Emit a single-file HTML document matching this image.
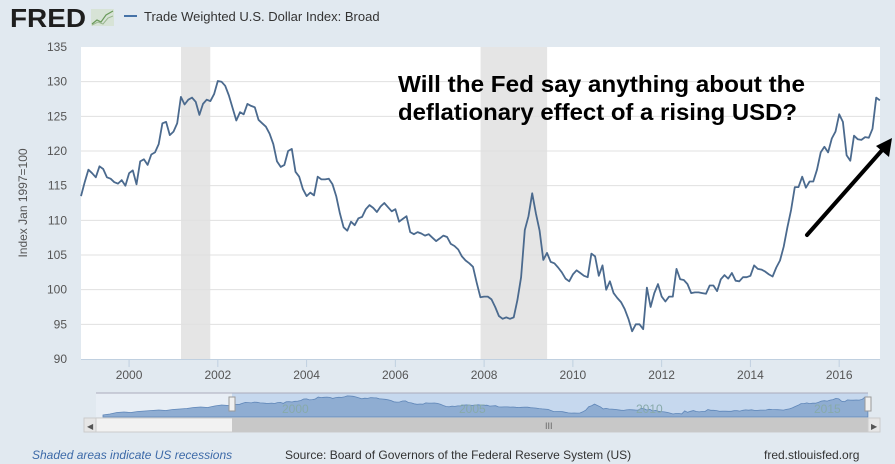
<!DOCTYPE html>
<html><head><meta charset="utf-8"><style>
body{margin:0;width:895px;height:464px;background:#e1e9f0;font-family:"Liberation Sans",Arial,sans-serif;overflow:hidden}
svg{display:block}
</style></head><body>
<svg id="c" width="895" height="464">
<rect x="0" y="0" width="895" height="464" fill="#e1e9f0"/>
<g>
<text x="10" y="27" font-size="26" font-weight="bold" fill="#1e1e1e" textLength="76" lengthAdjust="spacingAndGlyphs" font-family="Liberation Sans, Arial, sans-serif">FRED</text>
<rect x="91" y="9" width="23" height="17" fill="#d7e3d6"/>
<polyline points="92,24 97,20 101,22 106,15 113,11" fill="none" stroke="#6a9a5b" stroke-width="1.2"/>
<polyline points="92,25 98,22 103,24 108,18 113,16" fill="none" stroke="#9ab78f" stroke-width="1"/>
</g>
<line x1="124" y1="16" x2="137" y2="16" stroke="#4572a7" stroke-width="2"/>
<text x="144" y="21" font-size="13" fill="#333">Trade Weighted U.S. Dollar Index: Broad</text>
<rect x="81" y="47" width="799" height="312" fill="#fff"/>
<g id="rec"></g><g id="grid"></g><g id="ylab"></g><g id="xlab"></g>
<text transform="translate(27,203) rotate(-90)" text-anchor="middle" font-size="12" fill="#555">Index Jan 1997=100</text>
<path id="line" fill="none" stroke="#4b6a8e" stroke-width="1.8" stroke-linejoin="round"/>
<g font-size="23" font-weight="bold" fill="#000">
<text x="398" y="92" textLength="407" lengthAdjust="spacingAndGlyphs">Will the Fed say anything about the</text>
<text x="398" y="120" textLength="399" lengthAdjust="spacingAndGlyphs">deflationary effect of a rising USD?</text>
</g>
<g>
<line x1="807" y1="235" x2="884" y2="148" stroke="#000" stroke-width="4" stroke-linecap="round"/>
<polygon points="892,138 889,157 876,146" fill="#000"/>
</g>
<g>
<rect x="96" y="393" width="772" height="24" fill="#e8eef5"/>
<rect x="232" y="393" width="636" height="24" fill="#c6d8ee"/>
<path id="nav" fill="#8fadd2" stroke="#5f86b8" stroke-width="0.8"/>
<line x1="96" y1="393" x2="868" y2="393" stroke="#aab"/>
<text x="282" y="413" font-size="12" fill="#8aa">2000</text><text x="459" y="413" font-size="12" fill="#8aa">2005</text>
<text x="636" y="413" font-size="12" fill="#8aa">2010</text><text x="814" y="413" font-size="12" fill="#8aa">2015</text>
<rect x="229" y="397" width="6" height="14" fill="#f0f0f0" stroke="#999"/>
<rect x="865" y="397" width="6" height="14" fill="#f0f0f0" stroke="#999"/>
</g>
<g>
<rect x="84" y="418" width="796" height="14" fill="#f2f2f2" stroke="#ccc"/>
<rect x="232" y="418" width="636" height="14" fill="#c8c8c8"/>
<rect x="84" y="418" width="12" height="14" fill="#e6e6e6" stroke="#ccc"/>
<rect x="868" y="418" width="12" height="14" fill="#e6e6e6" stroke="#ccc"/>
<text x="87" y="429" font-size="8" fill="#555">◀</text><text x="871" y="429" font-size="8" fill="#555">▶</text>
<text x="545" y="429" font-size="9" fill="#666">III</text>
</g>
<text x="32" y="459" font-size="12" font-style="italic" fill="#3d6aa8">Shaded areas indicate US recessions</text>
<text x="285" y="459" font-size="12" fill="#333">Source: Board of Governors of the Federal Reserve System (US)</text>
<text x="764" y="459" font-size="12" fill="#333">fred.stlouisfed.org</text>
</svg>
<script>
const startYear = 1998.917;
const values = [113.5,
115.5,117.3,116.8,116.2,117.8,117.4,116.2,116.0,115.5,115.3,115.8,115.0,
116.8,117.2,115.2,118.5,118.8,118.0,119.5,119.8,121.0,124.0,124.2,122.3,
122.8,124.0,127.8,126.7,127.4,127.7,127.1,125.2,126.8,127.4,127.2,128.2,
130.1,130.0,129.4,128.0,126.2,124.4,125.6,125.3,126.8,126.5,126.3,124.5,
124.0,123.5,122.5,121.0,118.5,117.7,118.0,120.0,120.3,117.0,116.3,114.5,
113.5,114.0,113.6,116.3,115.9,115.9,116.0,115.2,113.5,111.0,109.0,108.5,
109.8,109.3,110.3,110.5,111.6,112.2,111.8,111.2,112.0,112.5,111.9,111.3,
111.6,109.8,110.2,110.6,108.3,108.0,108.3,108.1,107.8,108.0,107.5,107.0,
107.4,107.8,107.6,106.6,106.3,105.8,104.8,104.2,103.8,103.3,101.0,98.9,
99.0,99.0,98.6,97.5,96.2,95.8,96.0,95.8,96.0,98.5,101.8,108.6,
110.6,113.9,111.0,108.5,104.3,105.3,104.0,103.8,103.2,102.5,101.6,101.2,
102.2,102.8,102.4,102.0,101.8,105.2,104.8,102.0,103.5,100.0,101.2,99.5,
98.8,98.2,97.2,95.8,94.0,95.0,95.0,94.3,100.3,97.5,99.5,100.8,
99.0,98.3,99.0,99.0,103.0,101.5,101.4,100.8,99.5,99.6,99.6,99.5,
99.4,100.6,100.6,99.8,101.5,102.1,101.6,102.4,101.3,101.2,101.8,101.8,
102.0,103.5,103.0,102.9,102.6,102.2,101.9,103.2,104.2,106.2,109.0,111.5,
114.8,114.8,116.3,114.7,115.6,115.6,117.3,119.8,120.6,119.8,121.8,122.8,
125.3,124.2,119.4,118.6,122.2,121.7,121.6,122.0,121.9,123.2,127.7,127.3];
const preValues = [92,94,97,98,97,99,100,101,102,101,103,104,105,107,108,107,110,112,111,113];
const yTicks = [90,95,100,105,110,115,120,125,130,135];
const xTicks = [2000,2002,2004,2006,2008,2010,2012,2014,2016];
const recessions = [[2001.17,2001.83],[2007.92,2009.42]];
const NS='http://www.w3.org/2000/svg';
const X0=81,X1=880,Y0=47,Y1=359,D0=1998.917,D1=2016.92;
const x=t=>X0+(t-D0)/(D1-D0)*(X1-X0);
const y=v=>Y1-(v-90)/45*(Y1-Y0);
function mk(tag,attrs,parent){const e=document.createElementNS(NS,tag);for(const k in attrs)e.setAttribute(k,attrs[k]);parent.appendChild(e);return e;}
const rec=document.getElementById('rec');
recessions.forEach(r=>{const e=mk('rect',{x:x(r[0]),y:Y0,width:x(r[1])-x(r[0]),height:Y1-Y0,fill:'#e5e5e5'},rec);

});
const grid=document.getElementById('grid'),yl=document.getElementById('ylab'),xl=document.getElementById('xlab');
yTicks.forEach(v=>{if(v>90&&v<135){const l=mk('line',{x1:X0,x2:X1,y1:y(v),y2:y(v),stroke:'#e0e0e0'},grid);

}
const t=mk('text',{x:67,y:y(v)+4,'text-anchor':'end','font-size':12,fill:'#555'},yl);t.textContent=v;

});
mk('line',{x1:X0,x2:X1,y1:Y1+0.5,y2:Y1+0.5,stroke:'#c0d0e0'},grid);
xTicks.forEach(v=>{mk('line',{x1:x(v),x2:x(v),y1:Y1,y2:Y1+8,stroke:'#c0d0e0'},grid);
const t=mk('text',{x:x(v),y:379,'text-anchor':'middle','font-size':12,fill:'#555'},xl);t.textContent=v;

});
let d='';values.forEach((v,i)=>{d+=(i?'L':'M')+x(startYear+i/12).toFixed(1)+','+y(v).toFixed(1);});
document.getElementById('line').setAttribute('d',d);
// navigator
const nx=t=>96+(t-1994.8)*34.9,ny=v=>417-(v-88)/44*22;
let nd='M'+nx(1995)+',417';
preValues.forEach((v,i)=>{nd+='L'+nx(1995+i*0.2).toFixed(1)+','+ny(v).toFixed(1);});
values.forEach((v,i)=>{nd+='L'+nx(startYear+i/12).toFixed(1)+','+ny(v).toFixed(1);});
nd+='L'+nx(startYear+(values.length-1)/12).toFixed(1)+',417Z';
document.getElementById('nav').setAttribute('d',nd);
</script>
</body></html>
